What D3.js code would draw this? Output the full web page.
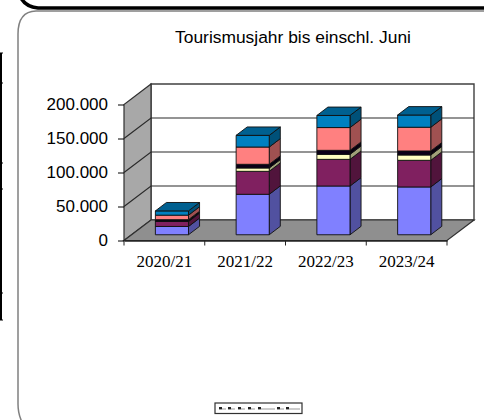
<!DOCTYPE html>
<html>
<head>
<meta charset="utf-8">
<script src="https://cdn.jsdelivr.net/npm/d3@7"></script>
<style>
html, body { margin: 0; padding: 0; background: #fff; }
svg { display: block; }
</style>
</head>
<body>
<div id="chart"></div>
<script>
const categories = ["2020/21", "2021/22", "2022/23", "2023/24"];
const series1 = [12200, 59500, 71700, 70300];
const series2 = [7300, 33800, 39200, 39200];
const series3 = [500, 4900, 7350, 7800];
const series4 = [2200, 5400, 5900, 5900];
const series5 = [6600, 25400, 33500, 34900];
const series6 = [6300, 17200, 17800, 18000];
const seriesColors = ["#8080ff", "#802060", "#ffffc0", "#0c0018", "#ff8080", "#0080c0"];
const yTicks = [0, 50000, 100000, 150000, 200000];
const title = "Tourismusjahr bis einschl. Juni";

const width = 484, height = 420;

const svg = d3.select("#chart").append("svg")
    .attr("width", width)
    .attr("height", height);

// 1) Page furniture: the rounded frames around the chart
svg.append("path")
    .attr("d", "M21,-2 Q26,7 38,8 L484,8")
    .attr("fill", "none").attr("stroke", "#000").attr("stroke-width", 3.6);
svg.append("path")
    .attr("d", "M22,422 Q18,414 18,404 L18,34 Q18,11.5 36,11 L484,11")
    .attr("fill", "none").attr("stroke", "#808080").attr("stroke-width", 1.5);
svg.append("line")
    .attr("x1", 1).attr("x2", 1).attr("y1", 53).attr("y2", 320)
    .attr("stroke", "#000").attr("stroke-width", 2);
[53, 83, 163, 189, 293, 320].forEach(t => {
    svg.append("line").attr("x1", 0).attr("x2", 3).attr("y1", t).attr("y2", t)
        .attr("stroke", "#000");
});

// 2) Scales, with a fixed oblique offset for the depth of the box
const x = d3.scaleBand().domain(categories).range([124, 447]).paddingInner(0.59).paddingOuter(0.295);
const y = d3.scaleLinear().domain([0, 200000]).range([240.5, 104.5]);
const depthX = 27, depthY = -20.5;
const barDepth = 0.41;   // share of the box depth taken by a bar
const barShift = 0.28;   // where the bar starts inside the box

const x0 = x.range()[0], x1 = x.range()[1], y0 = y(0), yTop = y(200000);
const poly = pts => "M" + pts.map(p => p.join(",")).join("L") + "Z";

// back wall, side wall, floor
svg.append("path")
    .attr("d", poly([[x0 + depthX, y0 + depthY], [x1 + depthX, y0 + depthY], [x1 + depthX, yTop + depthY], [x0 + depthX, yTop + depthY]]))
    .attr("fill", "#fff").attr("stroke", "#404040").attr("stroke-width", 1.4);
svg.append("path")
    .attr("d", poly([[x0, y0], [x0 + depthX, y0 + depthY], [x0 + depthX, yTop + depthY], [x0, yTop]]))
    .attr("fill", "#a8a8a8").attr("stroke", "#303030").attr("stroke-width", 1.2);
svg.append("path")
    .attr("d", poly([[x0, y0], [x1, y0], [x1 + depthX, y0 + depthY], [x0 + depthX, y0 + depthY]]))
    .attr("fill", "#8f8f8f").attr("stroke", "#303030").attr("stroke-width", 1.2);

// gridlines run along the side wall and across the back wall
yTicks.slice(1, -1).forEach(t => {
    svg.append("path")
        .attr("d", "M" + x0 + "," + y(t) + "L" + (x0 + depthX) + "," + (y(t) + depthY) + "L" + (x1 + depthX) + "," + (y(t) + depthY))
        .attr("fill", "none").attr("stroke", "#2a2a2a").attr("stroke-width", 1.2);
});

// 3) Axes
const de = d3.formatLocale({ decimal: ",", thousands: ".", grouping: [3], currency: ["", "€"] });
const yAxis = svg.append("g")
    .attr("transform", "translate(" + x0 + ",0)")
    .call(d3.axisLeft(y).tickValues(yTicks).tickFormat(de.format(",d")).tickSize(6).tickPadding(10));
yAxis.select(".domain").remove();
yAxis.selectAll("text")
    .style("font-family", "'Liberation Sans', Arial, sans-serif")
    .style("font-size", "17px").attr("fill", "#000");

const xAxis = svg.append("g")
    .attr("transform", "translate(0," + y0 + ")")
    .call(d3.axisBottom(x).tickSize(0).tickPadding(14));
xAxis.select(".domain").attr("stroke", "#222").attr("stroke-width", 1.4);
xAxis.selectAll("text")
    .style("font-family", "'Liberation Serif', 'Times New Roman', serif")
    .style("font-size", "17px").attr("fill", "#000");
// ticks sit between the categories
d3.range(categories.length + 1).forEach(i => {
    const tx = x0 + i * (x1 - x0) / categories.length;
    svg.append("line").attr("x1", tx).attr("x2", tx).attr("y1", y0).attr("y2", y0 + 5)
        .attr("stroke", "#222");
});

// 4) Stacked bars, each segment a small box
const rows = categories.map((c, i) => ({
    category: c, s1: series1[i], s2: series2[i], s3: series3[i],
    s4: series4[i], s5: series5[i], s6: series6[i]
}));
const stacked = d3.stack().keys(["s1", "s2", "s3", "s4", "s5", "s6"])(rows);
const bw = x.bandwidth();
const sx = barShift * depthX, sy = barShift * depthY;
const dx = barDepth * depthX, dy = barDepth * depthY;

categories.forEach((c, i) => {
    const g = svg.append("g");
    const left = x(c) + sx, right = left + bw;
    stacked.forEach((layer, k) => {
        const base = y(layer[i][0]) + sy, top = y(layer[i][1]) + sy;
        const color = d3.color(seriesColors[k]);
        g.append("path")
            .attr("d", poly([[right, base], [right + dx, base + dy], [right + dx, top + dy], [right, top]]))
            .attr("fill", color.darker(1.3)).attr("stroke", "#101010").attr("stroke-width", 0.9);
        g.append("path")
            .attr("d", poly([[left, base], [right, base], [right, top], [left, top]]))
            .attr("fill", color).attr("stroke", "#101010").attr("stroke-width", 0.9);
        if (k === stacked.length - 1) {
            g.append("path")
                .attr("d", poly([[left, top], [right, top], [right + dx, top + dy], [left + dx, top + dy]]))
                .attr("fill", color.darker(0.8)).attr("stroke", "#101010").attr("stroke-width", 0.9);
        }
    });
});

// 5) Title
svg.append("text")
    .attr("x", 293).attr("y", 43)
    .attr("text-anchor", "middle")
    .style("font-family", "'Liberation Sans', Arial, sans-serif")
    .style("font-size", "17.4px")
    .text(title);

// 6) Legend, squashed to nothing in the original: only keys are left
const legend = svg.append("g").attr("transform", "translate(215,403)");
legend.append("rect").attr("x", 0).attr("y", 0).attr("width", 87).attr("height", 10.5)
    .attr("fill", "#fff").attr("stroke", "#303030").attr("stroke-width", 1.2);
[4, 13, 23, 33, 43, 62, 71].forEach((kx, k) => {
    legend.append("rect").attr("x", kx).attr("y", 4).attr("width", 3).attr("height", 2.4).attr("fill", "#222");
    legend.append("line").attr("x1", kx + 3).attr("x2", kx + (k === 4 ? 17 : k === 6 ? 14 : 7)).attr("y1", 6).attr("y2", 6)
        .attr("stroke", "#999").attr("stroke-width", 1);
});
</script>
</body>
</html>
